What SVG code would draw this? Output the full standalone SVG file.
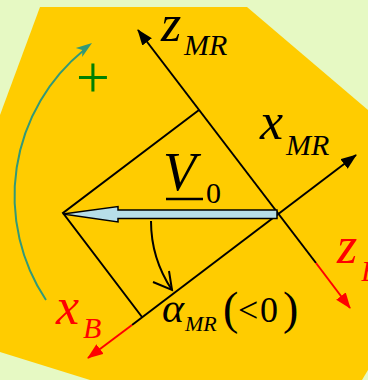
<svg xmlns="http://www.w3.org/2000/svg" width="368" height="380" viewBox="0 0 368 380">
  <defs>
    <style>
      .ln { fill: none; stroke: #000; stroke-width: 2; }
      .red { fill: none; stroke: #FF0000; stroke-width: 2; }
    </style>
    <marker id="ahB" markerUnits="userSpaceOnUse" markerWidth="18" markerHeight="14" refX="15" refY="6" orient="auto">
      <path d="M0,0 L16,6 L0,12 Z" fill="#000"/>
    </marker>
    <marker id="ahR" markerUnits="userSpaceOnUse" markerWidth="18" markerHeight="14" refX="15" refY="6" orient="auto">
      <path d="M0,0 L16,6 L0,12 Z" fill="#FF0000"/>
    </marker>
  </defs>

  <g id="background">
    <rect x="0" y="0" width="368" height="380" fill="#E6F9C3"/>
    <polygon points="40,7 247,7 368,110 368,370 362,380 90,380 0,352 0,115" fill="#FFCC00"/>
  </g>

  <g id="connectors">
    <line class="ln" x1="316" y1="263" x2="138" y2="30" marker-end="url(#ahB)"/>
    <line class="red" x1="316" y1="263" x2="350" y2="308" marker-end="url(#ahR)"/>
    <line class="ln" x1="132" y1="325" x2="356" y2="155" marker-end="url(#ahB)"/>
    <line class="red" x1="132" y1="325" x2="88" y2="358" marker-end="url(#ahR)"/>
    <polyline class="ln" points="199,110 63,213 142,317"/>
    <path class="ln" d="M151,221 C151,250 160,272 172,290"/>
    <polyline class="ln" points="153,282 172,290 169,271"/>
    <path d="M46,300 A188,188 0 0 1 84,50" fill="none" stroke="#339977" stroke-width="2"/>
    <polygon points="92,43 75.8,47.9 82.3,50 82.2,56.9" fill="#339977"/>
  </g>

  <g id="v0-arrow">
    <polygon points="63,214 118,206.5 118,210 277,210 277,218.5 118,218.5 118,222" fill="#B7DEE8" stroke="#000" stroke-width="1.5"/>
  </g>

  <g id="label-v0" font-family="'Liberation Serif', serif" fill="#000">
    <text x="163" y="190" font-size="54" font-style="italic">V</text>
    <line x1="166" y1="199" x2="203" y2="199" stroke="#000" stroke-width="2.5"/>
    <text x="206" y="203" font-size="30">0</text>
  </g>

  <g id="label-zmr" font-family="'Liberation Serif', serif" font-style="italic" fill="#000">
    <text x="161" y="41" font-size="52">z</text>
    <text x="184" y="55" font-size="30">MR</text>
  </g>

  <g id="label-xmr" font-family="'Liberation Serif', serif" font-style="italic" fill="#000">
    <text x="260" y="139" font-size="52">x</text>
    <text x="286" y="155" font-size="30">MR</text>
  </g>

  <g id="label-zb" font-family="'Liberation Serif', serif" font-style="italic" fill="#FF0000">
    <text x="337" y="263" font-size="52">z</text>
    <text x="361" y="281" font-size="30">B</text>
  </g>

  <g id="label-xb" font-family="'Liberation Serif', serif" font-style="italic" fill="#FF0000">
    <text x="56" y="324" font-size="52">x</text>
    <text x="83" y="338" font-size="30">B</text>
  </g>

  <g id="label-alpha" font-family="'Liberation Serif', serif" fill="#000">
    <text x="162" y="322" font-size="42" font-style="italic">α</text>
    <text x="185" y="331" font-size="22" font-style="italic">MR</text>
    <text x="223" y="324" font-size="46">(</text>
    <text x="238" y="322" font-size="36">&lt;</text>
    <text x="260" y="322" font-size="36">0</text>
    <text x="283" y="324" font-size="46">)</text>
  </g>

  <g id="label-plus">
    <text x="93" y="97" font-size="60" text-anchor="middle" fill="#008000" font-family="'Liberation Serif', serif">+</text>
  </g>
</svg>
